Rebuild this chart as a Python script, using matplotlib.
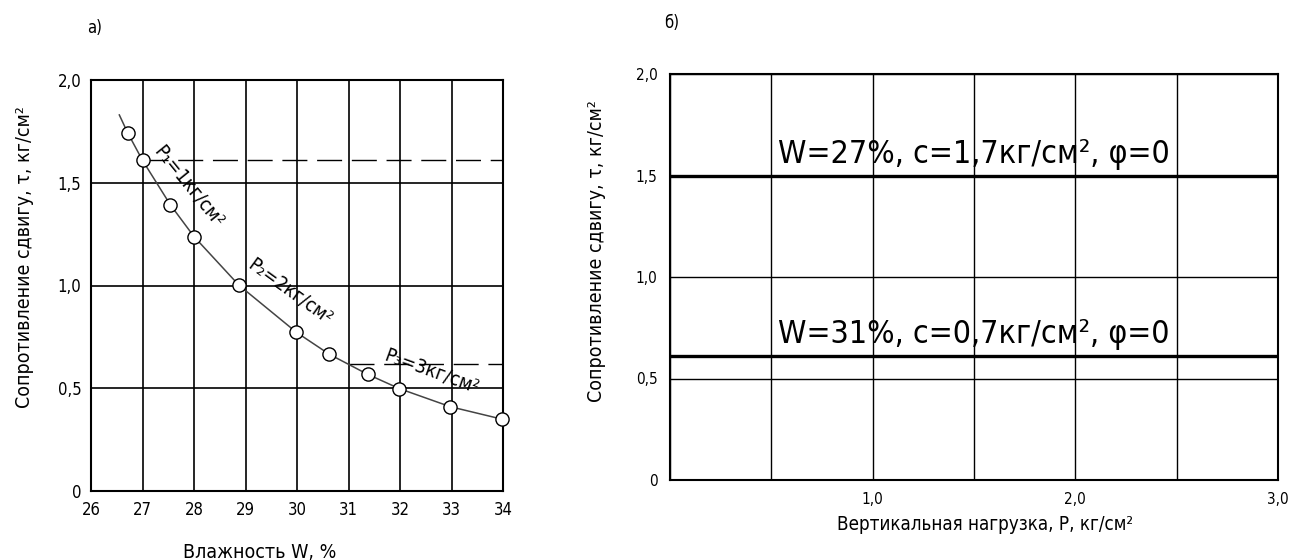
import matplotlib
matplotlib.use("Agg")
import matplotlib.pyplot as plt
import matplotlib.font_manager as fm

# ---------------- data ----------------
# panel a) : shear resistance vs moisture
w_points = [26.71, 27.0, 27.54, 28.0, 28.87, 29.99, 30.63, 31.37, 31.99, 32.98, 33.99]
tau_points = [1.744, 1.609, 1.393, 1.238, 1.002, 0.772, 0.665, 0.568, 0.498, 0.41, 0.349]
curve_w = [26.55] + w_points
curve_tau = [1.83] + tau_points
dash_levels = [1.61, 0.617]
dash_starts = [27.0, 31.0]
load_labels = ["P\u2081=1кг/см\u00b2", "P\u2082=2кг/см\u00b2", "P\u2083=3кг/см\u00b2"]
load_label_w = [27.9, 29.86, 32.62]
load_label_tau = [1.48, 0.968, 0.58]
load_label_rot = [-51, -36, -20]
xticks_a = [26, 27, 28, 29, 30, 31, 32, 33, 34]
yticks = [0, 0.5, 1.0, 1.5, 2.0]
ytick_labels = ["0", "0,5", "1,0", "1,5", "2,0"]

# panel б) : shear resistance vs vertical load
c_levels = [1.5, 0.611]
c_texts = ["W=27%, c=1,7кг/см\u00b2, φ=0", "W=31%, c=0,7кг/см\u00b2, φ=0"]
xticks_b = [0, 0.5, 1.0, 1.5, 2.0, 2.5, 3.0]
xtick_labels_b = ["", "", "1,0", "", "2,0", "", "3,0"]

# ---------------- font ----------------
names = {f.name for f in fm.fontManager.ttflist}
main = "Liberation Sans Narrow" if "Liberation Sans Narrow" in names else "DejaVu Sans"
plt.rcParams['font.family'] = [main, 'DejaVu Sans']
if main == "DejaVu Sans":
    plt.rcParams['font.stretch'] = 'condensed'

fig = plt.figure(figsize=(12.93, 5.6), dpi=100)

# ---------- panel a ----------
axa = fig.add_axes([91/1293, 1-491/560, 412/1293, 411/560])
axa.set_xlim(26, 34)
axa.set_ylim(0, 2.0)
axa.set_xticks(xticks_a)
axa.set_xticklabels([str(v) for v in xticks_a])
axa.set_yticks(yticks)
axa.set_yticklabels(ytick_labels)
axa.tick_params(length=0, labelsize=12, pad=7)
axa.tick_params(axis='x', pad=7)
axa.grid(True, color='black', lw=1.2)
for s in axa.spines.values():
    s.set_linewidth(1.5)
for lvl, st in zip(dash_levels, dash_starts):
    axa.plot([st, 34], [lvl, lvl], color='black', lw=1.0, dashes=(18, 7), zorder=2)
axa.plot(curve_w, curve_tau, color='#444444', lw=1.1, zorder=3)
axa.plot(w_points, tau_points, 'o', ms=9.5, mfc='white', mec='black', mew=1.0,
         zorder=4, clip_on=False)
for txt, x, y, r in zip(load_labels, load_label_w, load_label_tau, load_label_rot):
    axa.text(x, y, txt, rotation=r, rotation_mode='anchor', ha='center', va='center',
             fontsize=14, zorder=5)
axa.set_axisbelow(True)
fig.text(25/1293, 1-257/560, "Сопротивление сдвигу, τ, кг/см\u00b2", rotation=90,
         ha='center', va='center', fontsize=14)
fig.text(260/1293, 1-552/560, "Влажность W, %", ha='center', va='center', fontsize=14)
fig.text(95/1293, 1-28/560, "а)", ha='center', va='center', fontsize=12)

# ---------- panel b ----------
axb = fig.add_axes([670/1293, 1-480/560, 608/1293, 406/560])
axb.set_xlim(0, 3.0)
axb.set_ylim(0, 2.0)
axb.set_xticks(xticks_b)
axb.set_xticklabels(xtick_labels_b)
axb.set_yticks(yticks)
axb.set_yticklabels(ytick_labels)
axb.tick_params(length=0, labelsize=11, pad=9)
axb.tick_params(axis='x', pad=9)
axb.grid(True, color='black', lw=1.0)
axb.set_axisbelow(True)
for s in axb.spines.values():
    s.set_linewidth(1.5)
for lvl, txt in zip(c_levels, c_texts):
    axb.axhline(lvl, color='black', lw=2.4, zorder=3)
    axb.text(1.5, lvl + 0.064, txt, ha='center', va='baseline', fontsize=23, zorder=4)
fig.text(597/1293, 1-251/560, "Сопротивление сдвигу, τ, кг/см\u00b2", rotation=90,
         ha='center', va='center', fontsize=14)
fig.text(985/1293, 1-524/560, "Вертикальная нагрузка, P, кг/см\u00b2", ha='center',
         va='center', fontsize=13.5)
fig.text(672/1293, 1-23/560, "б)", ha='center', va='center', fontsize=12)

fig.savefig("out.png", dpi=100)
